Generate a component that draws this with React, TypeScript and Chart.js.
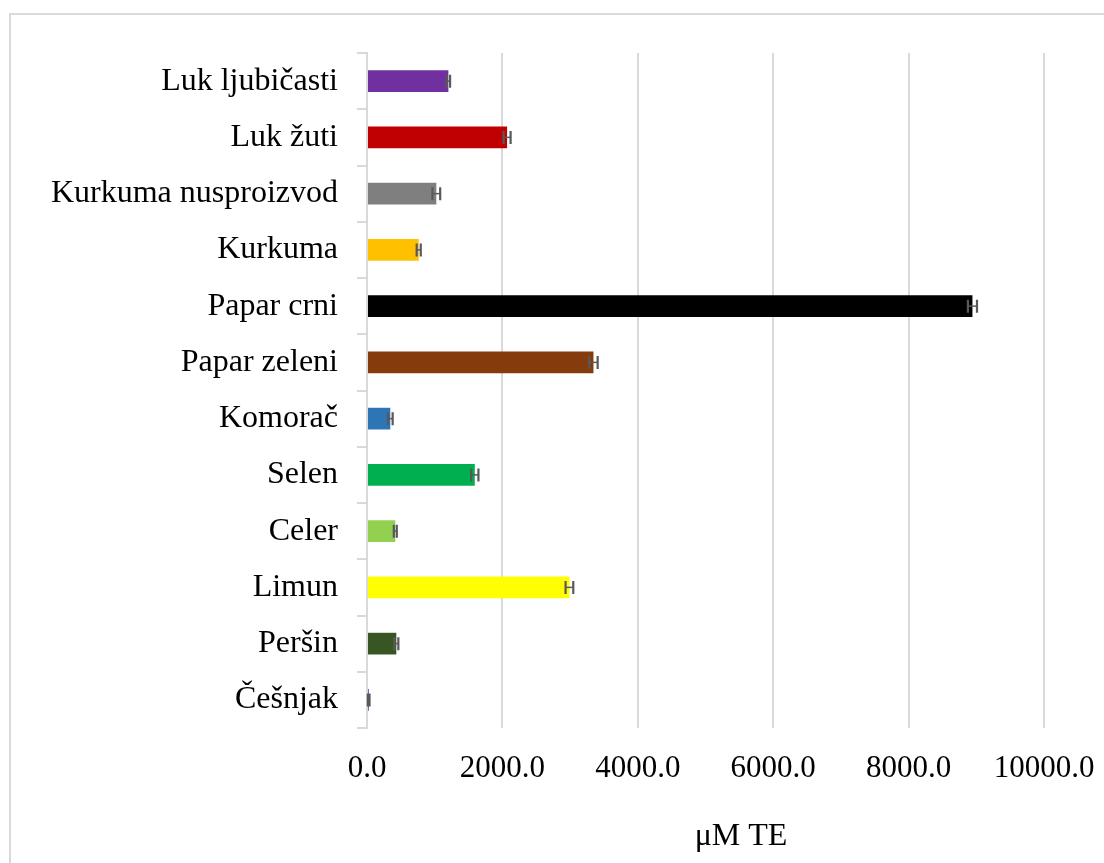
import React, { useEffect, useRef } from "react";
import { Chart, registerables } from "chart.js";

Chart.register(...registerables);

const categories = [
  "Luk ljubičasti",
  "Luk žuti",
  "Kurkuma nusproizvod",
  "Kurkuma",
  "Papar crni",
  "Papar zeleni",
  "Komorač",
  "Selen",
  "Celer",
  "Limun",
  "Peršin",
  "Češnjak",
];
const values = [1202, 2069, 1024, 764, 8943, 3345, 344, 1592, 418, 2990, 433, 25];
const errors = [25, 52, 57, 30, 67, 62, 35, 54, 22, 57, 30, 12];
const colors = [
  "#7030A0",
  "#C00000",
  "#7F7F7F",
  "#FFC000",
  "#000000",
  "#843C0C",
  "#2E75B6",
  "#00B050",
  "#92D050",
  "#FFFF00",
  "#375623",
  "#1F3A93",
];
const axisTitle = "μM TE";
const FONT = '"Liberation Serif", "Times New Roman", serif';

const errorBarPlugin = {
  id: "errorBars",
  afterDatasetsDraw(chart: any) {
    const ctx = chart.ctx;
    const meta = chart.getDatasetMeta(0);
    const xs = chart.scales.x;
    ctx.save();
    ctx.strokeStyle = "#595959";
    meta.data.forEach((el: any, i: number) => {
      const y = el.y;
      const x1 = xs.getPixelForValue(values[i] - errors[i]);
      const x2 = xs.getPixelForValue(values[i] + errors[i]);
      ctx.lineWidth = 1.5;
      ctx.beginPath();
      ctx.moveTo(x1, y);
      ctx.lineTo(x2, y);
      ctx.stroke();
      ctx.lineWidth = 2.2;
      ctx.beginPath();
      ctx.moveTo(x1, y - 6.5);
      ctx.lineTo(x1, y + 6.5);
      ctx.moveTo(x2, y - 6.5);
      ctx.lineTo(x2, y + 6.5);
      ctx.stroke();
    });
    ctx.restore();
  },
};

const titlePlugin = {
  id: "axisTitleText",
  afterDraw(chart: any) {
    const ctx = chart.ctx;
    ctx.save();
    ctx.fillStyle = "#000000";
    ctx.font = `32px ${FONT}`;
    ctx.textAlign = "center";
    ctx.textBaseline = "alphabetic";
    ctx.fillText(axisTitle, 741, 845);
    ctx.restore();
  },
};

export default function App() {
  const ref = useRef<HTMLCanvasElement | null>(null);
  useEffect(() => {
    if (!ref.current) return;
    const chart = new Chart(ref.current, {
      type: "bar",
      data: {
        labels: categories,
        datasets: [
          {
            data: values,
            backgroundColor: colors,
            borderWidth: 0,
            categoryPercentage: 1,
            barPercentage: 0.386,
          },
        ],
      },
      options: {
        indexAxis: "y",
        animation: false,
        responsive: false,
        maintainAspectRatio: false,
        layout: { padding: { top: 53, right: 60, left: 0, bottom: 0 } },
        plugins: {
          legend: { display: false },
          tooltip: { enabled: false },
        },
        scales: {
          x: {
            min: 0,
            max: 10000,
            afterFit: (s: any) => {
              s.height = 135;
              s.paddingLeft = 0;
              s.paddingRight = 0;
            },
            ticks: {
              stepSize: 2000,
              color: "#000000",
              font: { family: FONT, size: 31 },
              padding: 22,
              callback: (v: any) => Number(v).toFixed(1),
              maxRotation: 0,
            },
            grid: { color: "#D9D9D9", lineWidth: 2, drawTicks: false },
            border: { display: false },
          },
          y: {
            afterFit: (s: any) => {
              s.width = 367;
              s.paddingTop = 0;
              s.paddingBottom = 0;
            },
            ticks: {
              color: "#000000",
              font: { family: FONT, size: 32 },
              padding: 19,
            },
            grid: {
              offset: true,
              drawOnChartArea: false,
              drawTicks: true,
              tickLength: 10,
              color: "#D9D9D9",
              lineWidth: 2,
            },
            border: { display: true, color: "#D9D9D9", width: 2 },
          },
        },
      },
      plugins: [errorBarPlugin, titlePlugin],
    });
    return () => chart.destroy();
  }, []);

  return (
    <div
      style={{
        position: "fixed",
        left: 0,
        top: 0,
        width: 1104,
        height: 863,
        overflow: "hidden",
        background: "#ffffff",
      }}
    >
      <div
        style={{
          position: "absolute",
          left: 9,
          top: 13,
          width: 1300,
          height: 1000,
          border: "2px solid #D9D9D9",
          boxSizing: "border-box",
        }}
      />
      <canvas
        ref={ref}
        width={1104}
        height={863}
        style={{ position: "absolute", left: 0, top: 0, width: 1104, height: 863 }}
      />
    </div>
  );
}
